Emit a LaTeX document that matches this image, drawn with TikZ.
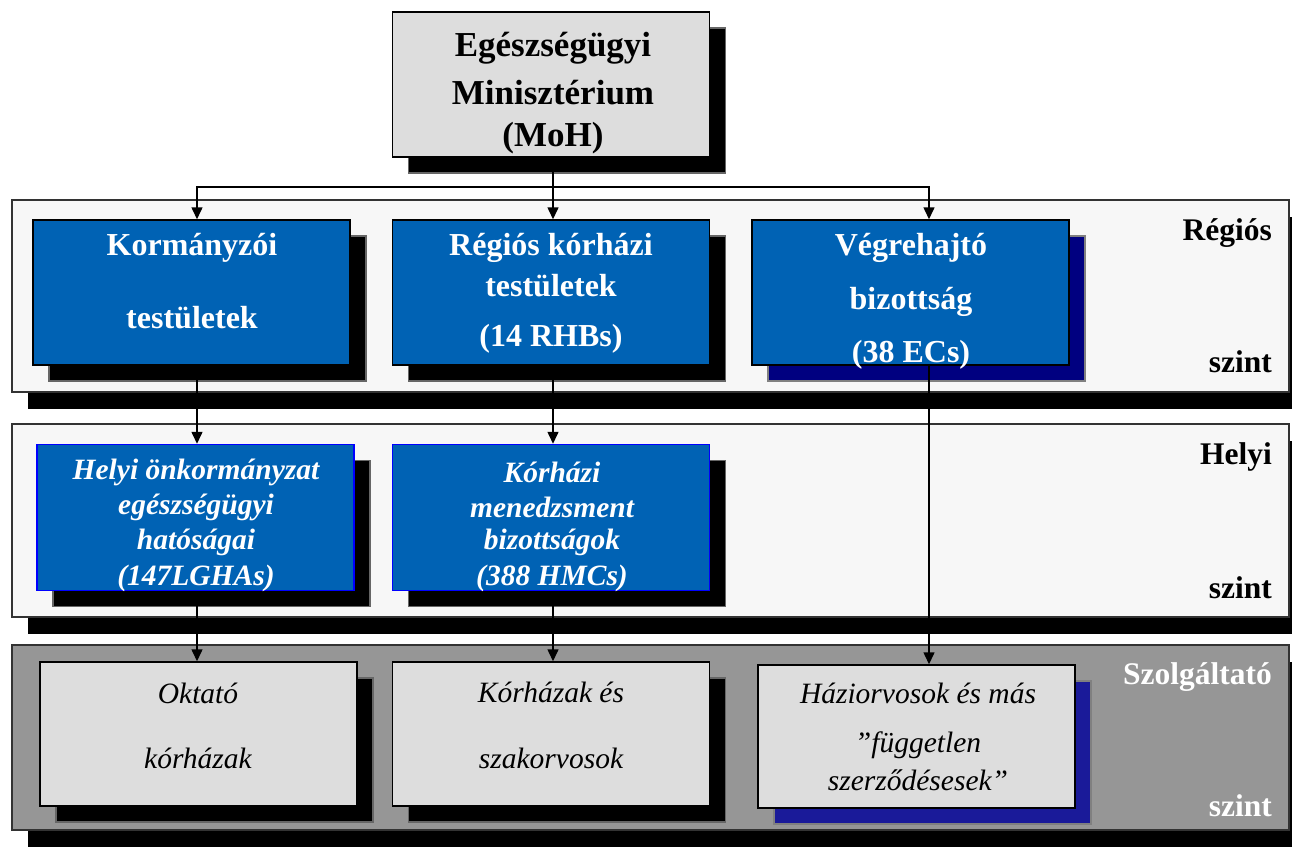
\documentclass[tikz,border=0pt]{standalone}
\usepackage{fontspec}
\setmainfont{Liberation Serif}
\usetikzlibrary{arrows.meta,shadows}
\definecolor{boxblue}{RGB}{0,98,180}
\definecolor{bandlight}{RGB}{247,247,247}
\definecolor{banddark}{RGB}{150,150,150}
\definecolor{boxgray}{RGB}{221,221,221}
\definecolor{navyshade}{RGB}{0,0,128}
\definecolor{navyshadeb}{RGB}{26,26,153}
\begin{document}
\begin{tikzpicture}[x=1pt,y=-1pt,
  band/.style={draw=black!80, line width=1.2pt, fill=bandlight,
    drop shadow={shadow xshift=16pt, shadow yshift=-17pt, opacity=1, fill=black}},
  darkband/.style={band, fill=banddark},
  box/.style={rectangle, inner sep=0pt, minimum width=317pt, minimum height=145pt},
  blackshade/.style={drop shadow={shadow xshift=16pt, shadow yshift=-16pt, opacity=1, fill=black, draw=black!60}},
  navyshadow/.style={drop shadow={shadow xshift=16pt, shadow yshift=-16pt, opacity=1, fill=#1, draw=black!50}},
  bluebox/.style={box, fill=boxblue, draw=black, line width=1.5pt},
  localbox/.style={box, minimum height=146pt, fill=boxblue, draw=blue, line width=1.5pt},
  graybox/.style={box, fill=boxgray, draw=black, line width=1.5pt},
  btxt/.style={text=white, font=\bfseries\fontsize{32}{36}\selectfont, inner sep=0pt},
  itxt/.style={text=white, font=\bfseries\itshape\fontsize{29.5}{34}\selectfont, inner sep=0pt},
  gtxt/.style={text=black, font=\itshape\fontsize{29.5}{34}\selectfont, inner sep=0pt},
  lvl/.style={font=\bfseries\fontsize{31.5}{36}\selectfont, inner sep=0pt, anchor=east},
  mtxt/.style={font=\bfseries\fontsize{35}{40}\selectfont, inner sep=0pt},
  conn/.style={line width=1.5pt, -{Triangle[length=12pt,width=11pt]}}
]
\path[use as bounding box] (0,0) rectangle (1292,847);

% level bands
\path[band] (12,200) rectangle (1289,392);
\path[band] (12,424) rectangle (1289,617);
\path[darkband] (12,645) rectangle (1289,830);

% level labels
\node[lvl] (l1a) at (1272,233) {Régiós};
\node[lvl] (l1b) at (1272,362) {szint};
\node[lvl] (l2a) at (1272,457) {Helyi};
\node[lvl] (l2b) at (1272,588) {szint};
\node[lvl, text=white] (l3a) at (1272,677) {Szolgáltató};
\node[lvl, text=white] (l3b) at (1272,806) {szint};

% ministry
\node[graybox, blackshade] (moh) at (551,84.5) {};
\node[mtxt] (moh1) at (553,48) {Egészségügyi};
\node[mtxt] (moh2) at (553,93) {Minisztérium};
\node[mtxt] (moh3) at (553,138) {(MoH)};

% regional level
\node[bluebox, blackshade] (korm) at (191.5,292.5) {};
\node[bluebox, blackshade] (rhb) at (551,292.5) {};
\node[bluebox, navyshadow=navyshade] (ec) at (910.5,292.5) {};

\node[btxt] (korm1) at (192,248) {Kormányzói};
\node[btxt] (korm2) at (192,318) {testületek};
\node[btxt] (rhb1) at (551,248) {Régiós kórházi};
\node[btxt] (rhb2) at (551,286) {testületek};
\node[btxt] (rhb3) at (551,339) {(14 RHBs)};
\node[btxt] (ec1) at (911,248) {Végrehajtó};
\node[btxt] (ec2) at (911,302) {bizottság};
\node[btxt] (ec3) at (911,355) {(38 ECs)};

% local level
\node[localbox, blackshade] (lgha) at (195.5,517.5) {};
\node[localbox, blackshade] (hmc) at (551,517.5) {};

\node[itxt] (lgha1) at (196,472) {Helyi önkormányzat};
\node[itxt] (lgha2) at (196,507) {egészségügyi};
\node[itxt] (lgha3) at (196,542) {hatóságai};
\node[itxt] (lgha4) at (196,578) {(147LGHAs)};
\node[itxt] (hmc1) at (552,472) {Kórházi};
\node[itxt] (hmc2) at (552,507) {menedzsment};
\node[itxt] (hmc3) at (552,542) {bizottságok};
\node[itxt] (hmc4) at (552,578) {(388 HMCs)};

% provider level
\node[graybox, blackshade, minimum height=144pt] (teach) at (198.5,734) {};
\node[graybox, blackshade, minimum height=144pt] (hosp) at (551,734) {};
\node[graybox, navyshadow=navyshadeb, minimum height=143pt] (gp) at (916.5,736.5) {};

\node[gtxt] (teach1) at (198,693) {Oktató};
\node[gtxt] (teach2) at (198,758) {kórházak};
\node[gtxt] (hosp1) at (551,692) {Kórházak és};
\node[gtxt] (hosp2) at (551,758) {szakorvosok};
\node[gtxt] (gp1) at (918,693) {Háziorvosok és más};
\node[gtxt] (gp2) at (918,745) {”független};
\node[gtxt] (gp3) at (918,780) {szerződésesek”};

% connectors
\coordinate (split) at (553,187);
\draw[line width=1.5pt] (moh.south -| split) -- (split);
\draw[conn] (split) -| (korm.north -| 197,0);
\draw[conn] (split) -- (rhb.north -| split);
\draw[conn] (split) -| (ec.north -| 929,0);

\draw[conn] (korm.south -| 197,0) -- (lgha.north -| 197,0);
\draw[conn] (rhb.south -| 553,0) -- (hmc.north -| 553,0);
\draw[conn] (lgha.south -| 197,0) -- (teach.north -| 197,0);
\draw[conn] (hmc.south -| 553,0) -- (hosp.north -| 553,0);
\draw[conn] (ec.south -| 929,0) -- (gp.north -| 929,0);
\end{tikzpicture}
\end{document}
